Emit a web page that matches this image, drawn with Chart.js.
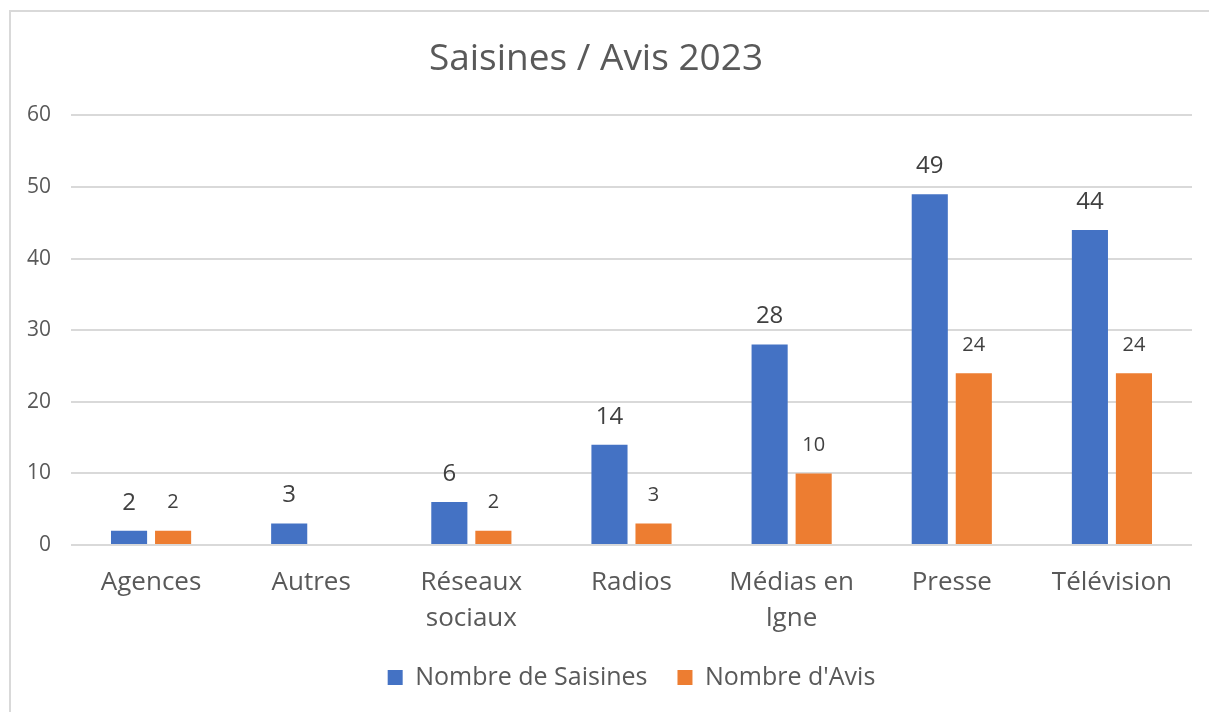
<!DOCTYPE html>
<html>
<head>
<meta charset="utf-8">
<script src="https://cdn.jsdelivr.net/npm/chart.js"></script>
<style>
  body { margin: 0; background: #fff; overflow: hidden; }
  #frame { position: absolute; left: 9px; top: 10px; width: 1300px; height: 800px; border: 2px solid #d9d9d9; }
  #c { position: absolute; left: 0; top: 0; }
</style>
</head>
<body>
<div id="frame"></div>
<canvas id="c" width="1209" height="712"></canvas>
<script>
const categories = ["Agences", "Autres", ["Réseaux", "sociaux"], "Radios", ["Médias en", "lgne"], "Presse", "Télévision"];
const saisines = [2, 3, 6, 14, 28, 49, 44];
const avis = [2, null, 2, 3, 10, 24, 24];
const yTicks = [0, 10, 20, 30, 40, 50, 60];

const FONT = "'Open Sans', sans-serif";
const TEXT = "#595959";

// draws the value above each bar, bigger for the first series
const barLabels = {
  id: 'barLabels',
  afterDatasetsDraw(chart) {
    const ctx = chart.ctx;
    chart.data.datasets.forEach((ds, i) => {
      const meta = chart.getDatasetMeta(i);
      ctx.save();
      ctx.fillStyle = "#404040";
      ctx.font = (i === 0 ? "24px " : "20px ") + FONT;
      ctx.textAlign = 'center';
      ctx.textBaseline = 'middle';
      meta.data.forEach((bar, j) => {
        const v = ds.data[j];
        if (v == null) return;
        ctx.fillText(String(v), bar.x, bar.y - 28);
      });
      ctx.restore();
    });
  }
};

new Chart(document.getElementById('c'), {
  type: 'bar',
  data: {
    labels: categories,
    datasets: [
      { label: 'Nombre de Saisines', data: saisines, backgroundColor: '#4472C4' },
      { label: "Nombre d'Avis", data: avis, backgroundColor: '#ED7D31' }
    ]
  },
  options: {
    responsive: false,
    animation: false,
    devicePixelRatio: 1,
    layout: { padding: { left: 0, right: 17, top: 0, bottom: 12 } },
    datasets: { bar: { categoryPercentage: 0.55, barPercentage: 0.82 } },
    plugins: {
      title: {
        display: true,
        text: 'Saisines / Avis 2023',
        color: TEXT,
        font: { family: FONT, size: 37, weight: 'normal', lineHeight: 1.2 },
        padding: { top: 37, bottom: 34 }
      },
      legend: {
        position: 'bottom',
        fullSize: false,
        labels: {
          color: TEXT,
          font: { family: FONT, size: 25 },
          boxWidth: 15,
          boxHeight: 15,
          padding: 30
        }
      },
      tooltip: { enabled: false }
    },
    scales: {
      x: {
        grid: { display: false, drawTicks: false },
        border: { display: false },
        ticks: { color: TEXT, font: { family: FONT, size: 26, lineHeight: 1.4 }, padding: 19, maxRotation: 0 },
        afterFit(scale) { scale.height = 90; }
      },
      y: {
        min: 0,
        max: 60,
        afterBuildTicks(scale) { scale.ticks = yTicks.map(v => ({ value: v })); },
        grid: { color: '#d9d9d9', lineWidth: 2, drawTicks: false },
        border: { display: false },
        ticks: { color: TEXT, font: { family: FONT, size: 21 }, padding: 20 },
        afterFit(scale) { scale.width = 71; }
      }
    }
  },
  plugins: [barLabels]
});
</script>
</body>
</html>
